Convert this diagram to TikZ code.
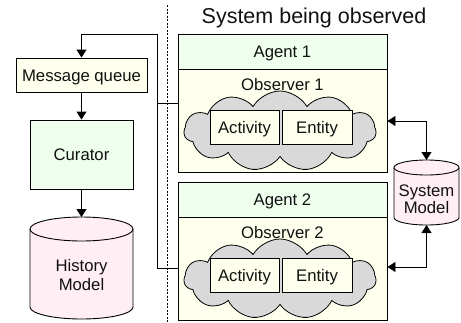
\documentclass[tikz,border=0pt]{standalone}
\usepackage{fontspec}
\setmainfont{Liberation Sans}
\usetikzlibrary{shapes.symbols,arrows.meta}
\definecolor{hdrgreen}{HTML}{EEFFEE}
\definecolor{bodyyel}{HTML}{FFFFEE}
\definecolor{cylpink}{HTML}{FFEEF3}
\definecolor{cloudgray}{HTML}{D9D9D9}
\definecolor{txt}{HTML}{111111}
\tikzset{
  every node/.style={font=\fontsize{16.7pt}{19pt}\selectfont, text=txt},
  box/.style={draw=black, line width=0.9pt, rectangle, inner sep=0pt, text height=12pt, text depth=0pt},
  plainlbl/.style={inner sep=0pt, anchor=base},
  conn/.style={draw=black, line width=0.9pt},
  arr/.style={conn, -{Triangle[length=8pt,width=10pt]}},
  darr/.style={conn, {Triangle[length=8pt,width=10pt]}-{Triangle[length=8pt,width=10pt]}},
  puffy/.style={cloud, cloud puffs=11, cloud puff arc=120, cloud ignores aspect, draw=black, line width=0.8pt, fill=cloudgray, minimum width=192pt, minimum height=80pt, inner sep=0pt},
  sep/.style={draw=black, line width=1pt, dash pattern=on 2pt off 1.5pt},
  cylfill/.style={fill=cylpink, draw=black, line width=0.9pt}
}
\begin{document}
\begin{tikzpicture}[x=1pt,y=-1pt]
\useasboundingbox (0,0) rectangle (461,322);
% separator
\coordinate (septop) at (167,5);
\coordinate (sepbot) at (167,322);
\draw[sep] (septop) -- (sepbot);
% title
\node[plainlbl, font=\fontsize{21.5pt}{24pt}\selectfont] (title) at (314,23.5) {System being observed};
% left column
\node[box, fill=bodyyel, minimum width=131pt, minimum height=34pt] (mq) at (81.5,75) {Message queue};
\node[box, fill=hdrgreen, minimum width=103pt, minimum height=69pt] (cur) at (81.5,154.5) {Curator};
% history cylinder
\path[cylfill] (30,229) -- (30,307) arc[start angle=180,end angle=360,x radius=51.5pt,y radius=12pt] -- (133,229) arc[start angle=0,end angle=180,x radius=51.5pt,y radius=12pt] -- cycle;
\draw[line width=0.9pt] (30,229) arc[start angle=180,end angle=360,x radius=51.5pt,y radius=12pt];
\coordinate (histtop) at (81.5,217);
\node[plainlbl] (hist1) at (81.5,271) {History};
\node[plainlbl] (hist2) at (81.5,290) {Model};
% agent 1
\node[box, fill=bodyyel, minimum width=209pt, minimum height=103pt] (ob1) at (282.5,120.5) {};
\node[box, fill=hdrgreen, minimum width=209pt, minimum height=35pt] (ag1) at (282.5,51.5) {Agent 1};
\node[puffy] (cl1) at (280,131) {};
\node[plainlbl] (ob1lbl) at (282.5,90) {Observer 1};
\node[box, fill=bodyyel, minimum width=69pt, minimum height=34pt] (act1) at (244.5,127) {Activity};
\node[box, fill=bodyyel, minimum width=70pt, minimum height=34pt] (ent1) at (317,127) {Entity};
% agent 2
\node[box, fill=bodyyel, minimum width=209pt, minimum height=103pt] (ob2) at (282.5,268.5) {};
\node[box, fill=hdrgreen, minimum width=209pt, minimum height=35pt] (ag2) at (282.5,199.5) {Agent 2};
\node[puffy] (cl2) at (280,279) {};
\node[plainlbl] (ob2lbl) at (282.5,238) {Observer 2};
\node[box, fill=bodyyel, minimum width=69pt, minimum height=34pt] (act2) at (244.5,275) {Activity};
\node[box, fill=bodyyel, minimum width=70pt, minimum height=34pt] (ent2) at (317,275) {Entity};
% system model cylinder
\path[cylfill] (394,167.5) -- (394,217.5) arc[start angle=180,end angle=360,x radius=32.5pt,y radius=7.5pt] -- (459,167.5) arc[start angle=0,end angle=180,x radius=32.5pt,y radius=7.5pt] -- cycle;
\draw[line width=0.9pt] (394,167.5) arc[start angle=180,end angle=360,x radius=32.5pt,y radius=7.5pt];
\coordinate (systop) at (426.5,160);
\coordinate (sysbot) at (426.5,225);
\node[plainlbl] (sys1) at (426.5,196) {System};
\node[plainlbl] (sys2) at (426.5,213) {Model};
% connectors
\draw[arr] (mq.south) -- (cur.north);
\draw[arr] (cur.south) -- (histtop);
\coordinate (fb1) at (ob1.west |- 0,103);
\coordinate (fb2) at (ob2.west |- 0,268);
\coordinate (fbbend) at (157,34);
\draw[arr] (fb1) -| (fbbend) -| (mq.north);
\draw[conn] (fb2) -| (fb1 -| fbbend);
\coordinate (a1r) at (ob1.east |- 0,121);
\coordinate (a2r) at (ob2.east |- 0,267);
\draw[darr] (a1r) -| (systop);
\draw[darr] (a2r) -| (sysbot);
\end{tikzpicture}
\end{document}
